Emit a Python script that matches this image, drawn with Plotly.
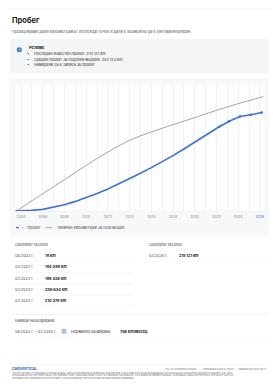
import plotly.graph_objects as go

W, H = 280, 390

# ---------------- data ----------------
years_actual = [2003.6, 2004.0, 2005.0, 2006.0, 2007.0, 2008.0, 2009.0, 2010.0, 2011.0, 2012.0,
                2013.0, 2014.0, 2015.0, 2016.0, 2017.0, 2018.0, 2019.0, 2020.0, 2021.0, 2022.0,
                2022.25, 2023.17, 2024.17, 2025.17, 2026.17]
km_actual = [18, 300, 1300, 3600, 8000, 13800, 21000, 29000, 38000, 48000,
             59000, 70700, 82500, 94700, 107500, 121000, 135500, 150800, 165800, 180500,
             184089, 196000, 206634, 210378, 215121]
marker_years = [2003.6, 2022.25, 2023.17, 2024.17, 2025.17, 2026.17]
marker_km = [18, 184089, 196000, 206634, 210378, 215121]

years_typical = [2003.6, 2006, 2008, 2010, 2012, 2014, 2016, 2018, 2020, 2022, 2024, 2026, 2026.3]
km_typical = [0, 37900, 68500, 99800, 129000, 154500, 172700, 188700, 204000, 220000, 234600, 247800, 250700]

tick_years = list(range(2004, 2027))
tick_labels = [(("<span style='color:#3a72d8'>%d</span>" % y) if y == 2026 else str(y)) if y % 2 == 0 else ""
               for y in tick_years]

rec_dates_left = ["08.2003 г.", "04.2022 г.", "03.2023 г.", "03.2024 г.", "03.2025 г."]
rec_km_left = ["18 km", "184 089 km", "189 326 km", "206 634 km", "210 378 km"]
rec_dates_right = ["03.2026 г."]
rec_km_right = ["215 121 km"]

summary_lines = ["Последен известен пробег: 215 121 km",
                 "Среден пробег за подобни модели: 254 123 km",
                 "Намерени са 6 записа за пробег"]

FONT = "Inter, Roboto, sans-serif"
BLUE = "#3a72d8"
GRAY = "#8c8c8c"


def px(x):
    return x / W


def py(y):
    return 1 - y / H


fig = go.Figure()

fig.add_trace(go.Scatter(x=years_typical, y=km_typical, mode="lines", line_shape="spline",
                         line=dict(color=GRAY, width=0.8), name="Типичен километраж за този модел",
                         showlegend=False, hoverinfo="skip"))
fig.add_trace(go.Scatter(x=years_actual, y=km_actual, mode="lines",
                         line=dict(color=BLUE, width=1.6),
                         name="Пробег", showlegend=False, hoverinfo="skip"))
fig.add_trace(go.Scatter(x=marker_years, y=marker_km, mode="markers",
                         marker=dict(size=2.6, color=BLUE),
                         name="Пробег записи", showlegend=False, hoverinfo="skip"))

shapes = []
ann = []


def rect(x0, y0, x1, y1, fill, line="rgba(0,0,0,0)", lw=0):
    shapes.append(dict(type="rect", xref="paper", yref="paper", x0=px(x0), x1=px(x1), y0=py(y1), y1=py(y0),
                       fillcolor=fill, line=dict(color=line, width=lw), layer="below"))


def hline(x0, x1, y, color="#ececec", width=0.6, dash="solid"):
    shapes.append(dict(type="line", xref="paper", yref="paper", x0=px(x0), x1=px(x1), y0=py(y), y1=py(y),
                       line=dict(color=color, width=width, dash=dash)))


def text(x, y, s, size=3.8, color="#444", bold=False, anchor="left", family=FONT):
    if bold:
        s = "<b>" + s + "</b>"
    ann.append(dict(xref="paper", yref="paper", x=px(x), y=py(y), text=s, showarrow=False,
                    xanchor=anchor, yanchor="middle", font=dict(size=size, color=color, family=family)))


# header
hline(10, 270, 9, color="#e6e6e6", width=0.6)
text(10, 20.5, "Пробег", size=7.5, color="#222", bold=True)
text(10, 31.5, "Проверяваме дали километражът изглежда точен и дали е възможно да е бил манипулиран.",
     size=3.9, color="#555")

# summary box
rect(10, 39, 269, 73, "#f4f5f7")
shapes.append(dict(type="circle", xref="paper", yref="paper", x0=px(16.8), x1=px(21.8), y0=py(52.2), y1=py(47.2),
                   fillcolor=BLUE, line=dict(width=0)))
text(19.3, 49.7, "i", size=3.6, color="white", bold=True, anchor="center")
text(26.5, 47.3, "Резюме", size=3.8, color="#222", bold=True)
for i, s in enumerate(summary_lines):
    yy = [54, 59.4, 64.8][i]
    text(28.3, yy, "•", size=3.8, color="#333", anchor="center")
    text(31.5, yy, s, size=3.8, color="#333")

# chart card
rect(10, 78, 269, 236, "#f7f8fa")
rect(15, 84, 265, 211, "#ffffff", line="#efefef", lw=0.5)

# legend
hline(16, 22.5, 227.7, color=BLUE, width=1.2, dash="dot")
text(24.5, 227.7, "Пробег", size=3.8, color="#444")
hline(45.5, 52.5, 227.7, color=GRAY, width=0.8)
text(55, 227.7, "Типичен километраж за този модел", size=3.8, color="#444")

# odometer records
text(13, 244, "Odometer records", size=3.8, color="#444")
text(147, 244, "Odometer records", size=3.8, color="#444")
row_y = [255.3, 266.3, 278, 289, 300.3]
sep_y = [261.3, 272.7, 283.7, 295, 306]
for i in range(len(rec_dates_left)):
    text(13, row_y[i], rec_dates_left[i], size=3.8, color="#555")
    text(43, row_y[i], rec_km_left[i], size=3.8, color="#222", bold=True)
    hline(13, 133, sep_y[i], color="#eeeeee", width=0.5)
for i in range(len(rec_dates_right)):
    text(147, row_y[i], rec_dates_right[i], size=3.8, color="#555")
    text(177, row_y[i], rec_km_right[i], size=3.8, color="#222", bold=True)
    hline(145, 268, sep_y[i], color="#f3f3f3", width=0.5)

# driving habits
hline(13, 268, 314.3, color="#e8e8e8", width=0.6)
text(13, 320.5, "Навици на шофиране", size=3.8, color="#444")
text(13, 331, "08.2003 г. – 03.2026 г.", size=3.8, color="#555")
rect(61.8, 329, 66.2, 333.4, "#a9c6f2", line="#8fb3ec", lw=0.3)
text(69, 331, "Нормално шофиране", size=3.8, color="#333")
text(118, 331, "766 km/месец", size=3.8, color="#222", bold=True)
hline(13, 268, 338.3, color="#eeeeee", width=0.5)

# footer
hline(10, 270, 365, color="#e6e6e6", width=0.5)
text(10, 369.3, "CAR<span style='font-size:3.3px'>V</span>ERTICAL", size=3.6, color="#2c5fc4", bold=True)
text(163, 369.3, "VIN: WAUZZZ8P0DA000000", size=2.3, color="#777")
text(199, 369.3, "|", size=2.3, color="#aaa")
text(201, 369.3, "Генерирано на 05.03.2026 г.", size=2.3, color="#777")
text(235, 369.3, "|", size=2.3, color="#aaa")
text(237, 369.3, "Валидно до 05.03.2027 г.", size=2.3, color="#777")
foot = ["Този PDF документ е генериран въз основа на данни, налични към момента на проверката на автомобила. За най-подробна и актуална информация и за обяснения или допълнителни доклади се свържете с нас, ако е",
        "необходимо да получите повече данни. Ние полагаме усилия, за да гарантираме точността и надеждността на данните, но не можем да поемем отговорност за възможни грешки или пропуски в източниците, които са",
        "използвани при генерирането на този PDF файл, и за всички решения, взети въз основа на предоставената информация."]
for i, s in enumerate(foot):
    text(10, [372.4, 374.8, 377.2][i], s, size=2.05, color="#777")

fig.update_layout(
    width=W, height=H, margin=dict(l=0, r=0, t=0, b=0),
    paper_bgcolor="white", plot_bgcolor="rgba(0,0,0,0)",
    shapes=shapes, annotations=ann, showlegend=False,
    xaxis=dict(domain=[px(15), px(265)], range=[2003.44, 2026.47], tickmode="array",
               tickvals=tick_years, ticktext=tick_labels, showgrid=True, gridcolor="#f1f1f1", gridwidth=0.5,
               zeroline=False, showline=False, ticks="outside", ticklen=2, tickcolor="rgba(0,0,0,0)",
               tickfont=dict(size=3.6, color="#888", family=FONT), fixedrange=True),
    yaxis=dict(domain=[py(211), py(84)], range=[0, 277500], showgrid=False, zeroline=False,
               showticklabels=False, showline=False, fixedrange=True),
)

fig.write_html("out.html", config={"displayModeBar": False})
